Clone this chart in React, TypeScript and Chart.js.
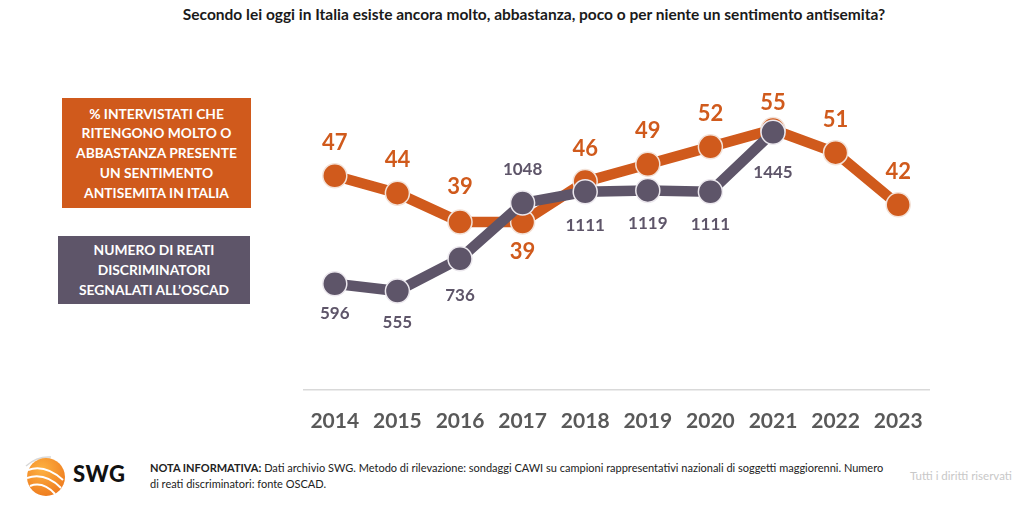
import React, { useEffect, useRef } from "react";
import { Chart, registerables } from "chart.js";

Chart.register(...registerables);

const years = ["2014", "2015", "2016", "2017", "2018", "2019", "2020", "2021", "2022", "2023"];
const pctValues = [47, 44, 39, 39, 46, 49, 52, 55, 51, 42];
const crimeValues: (number | null)[] = [596, 555, 736, 1048, 1111, 1119, 1111, 1445, null, null];

// label offsets (pixels from point centre; negative = above)
const pctLabelOffsets = [-33, -33, -35, 30, -33, -33, -33, -27, -33, -33];
const crimeLabelOffsets = [30, 32, 37, -34, 34, 33, 33, 40, 0, 0];

const ORANGE = "#D05A1C";
const GREY = "#5E5569";
const FONT = "Lato, 'Open Sans', sans-serif";

const labelPlugin = {
  id: "pointLabels",
  afterDatasetsDraw(chart: any) {
    const ctx = chart.ctx;
    ctx.save();
    ctx.textAlign = "center";
    ctx.textBaseline = "middle";
    chart.data.datasets.forEach((ds: any, di: number) => {
      const meta = chart.getDatasetMeta(di);
      const offsets = ds.labelOffsets as number[];
      meta.data.forEach((pt: any, i: number) => {
        const v = ds.data[i];
        if (v === null || v === undefined) return;
        ctx.fillStyle = ds.labelColor;
        ctx.font = ds.labelFont;
        ctx.fillText(String(v), pt.x, pt.y + offsets[i]);
      });
    });
    ctx.restore();
  },
};

function ChartCanvas() {
  const ref = useRef<HTMLCanvasElement | null>(null);
  useEffect(() => {
    if (!ref.current) return;
    const chart = new Chart(ref.current, {
      type: "line",
      data: {
        labels: years,
        datasets: [
          {
            label: "Numero di reati",
            data: crimeValues,
            yAxisID: "yCrime",
            borderColor: GREY,
            backgroundColor: GREY,
            borderWidth: 10.5,
            pointRadius: 12,
            pointBorderColor: "#ece8ee",
            pointBorderWidth: 1.5,
            pointBackgroundColor: GREY,
            spanGaps: false,
            order: 0,
            clip: false,
            labelOffsets: crimeLabelOffsets,
            labelColor: GREY,
            labelFont: `bold 17px ${FONT}`,
          } as any,
          {
            label: "% intervistati",
            data: pctValues,
            yAxisID: "yPct",
            borderColor: ORANGE,
            backgroundColor: ORANGE,
            borderWidth: 10.5,
            pointRadius: 12,
            pointBorderColor: "#f3e2d8",
            pointBorderWidth: 1.5,
            pointBackgroundColor: ORANGE,
            order: 1,
            clip: false,
            labelOffsets: pctLabelOffsets,
            labelColor: ORANGE,
            labelFont: `bold 22px ${FONT}`,
          } as any,
        ],
      },
      options: {
        responsive: false,
        animation: false,
        devicePixelRatio: 1,
        layout: { padding: { left: 10, right: 10, top: 20, bottom: 0 } },
        plugins: {
          legend: { display: false },
          tooltip: { enabled: false },
          title: { display: false },
        },
        scales: {
          x: {
            type: "category",
            offset: true,
            grid: { display: false, drawTicks: false },
            border: { display: true, color: "#d9d9d9", width: 1.5 },
            ticks: {
              padding: 19,
              color: "#595959",
              font: { family: FONT, size: 21, weight: "bold" },
            },
            afterFit: (s: any) => {
              s.height = 70;
            },
          },
          yPct: { display: false, min: 10, max: 67 },
          yCrime: { display: false, min: 0, max: 1850 },
        },
      } as any,
      plugins: [labelPlugin],
    });
    return () => chart.destroy();
  }, []);
  return (
    <canvas
      ref={ref}
      width={653}
      height={420}
      style={{ position: "absolute", left: 290, top: 40, width: 653, height: 420 }}
    />
  );
}

function Logo() {
  return (
    <svg width="46" height="46" viewBox="0 0 46 46" style={{ position: "absolute", left: 23, top: 454 }}>
      <defs>
        <radialGradient id="g" cx="40%" cy="30%" r="75%">
          <stop offset="0%" stopColor="#FDB241" />
          <stop offset="100%" stopColor="#EE7A1E" />
        </radialGradient>
      </defs>
      <path d="M3 12 Q14 2 28 3" stroke="#d8d8d8" strokeWidth="1.5" fill="none" />
      <circle cx="23" cy="23" r="19" fill="url(#g)" />
      <path d="M5 16 Q22 10 40 26" stroke="#fff" strokeWidth="2" fill="none" />
      <path d="M4 24 Q22 18 38 34" stroke="#fff" strokeWidth="2" fill="none" />
      <path d="M7 32 Q20 27 32 40" stroke="#fff" strokeWidth="2" fill="none" />
    </svg>
  );
}

export default function App() {
  const boxText: React.CSSProperties = {
    position: "absolute",
    color: "#ffffff",
    fontFamily: FONT,
    fontWeight: 700,
    fontSize: 13.8,
    lineHeight: "19.7px",
    textAlign: "center",
    display: "flex",
    alignItems: "center",
    justifyContent: "center",
  };
  return (
    <div
      style={{
        position: "fixed",
        left: 0,
        top: 0,
        width: 1024,
        height: 524,
        background: "#ffffff",
        overflow: "hidden",
        fontFamily: FONT,
      }}
    >
      <div
        style={{
          position: "absolute",
          left: 0,
          width: 1068,
          top: 5,
          textAlign: "center",
          fontWeight: 700,
          fontSize: 15.5,
          color: "#1a1a1a",
          whiteSpace: "nowrap",
        }}
      >
        Secondo lei oggi in Italia esiste ancora molto, abbastanza, poco o per niente un sentimento antisemita?
      </div>

      <div style={{ ...boxText, left: 62, top: 98, width: 189, height: 110, background: ORANGE }}>
        <div>
          % INTERVISTATI CHE
          <br />
          RITENGONO MOLTO O
          <br />
          ABBASTANZA PRESENTE
          <br />
          UN SENTIMENTO
          <br />
          ANTISEMITA IN ITALIA
        </div>
      </div>
      <div style={{ ...boxText, left: 58, top: 236, width: 192, height: 68, background: GREY }}>
        <div>
          NUMERO DI REATI
          <br />
          DISCRIMINATORI
          <br />
          SEGNALATI ALL’OSCAD
        </div>
      </div>

      <ChartCanvas />

      <Logo />
      <div
        style={{
          position: "absolute",
          left: 73,
          top: 460,
          fontWeight: 900,
          fontSize: 22,
          color: "#111",
          letterSpacing: 0.5,
        }}
      >
        SWG
      </div>
      <div
        style={{
          position: "absolute",
          left: 150,
          top: 460,
          fontSize: 11,
          lineHeight: "16px",
          color: "#222",
          whiteSpace: "nowrap",
        }}
      >
        <b>NOTA INFORMATIVA:</b> Dati archivio SWG. Metodo di rilevazione: sondaggi CAWI su campioni rappresentativi
        nazionali di soggetti maggiorenni. Numero
        <br />
        di reati discriminatori: fonte OSCAD.
      </div>
      <div
        style={{
          position: "absolute",
          left: 910,
          top: 469,
          fontSize: 11.5,
          color: "#c8c8c8",
          whiteSpace: "nowrap",
        }}
      >
        Tutti i diritti riservati
      </div>
    </div>
  );
}
